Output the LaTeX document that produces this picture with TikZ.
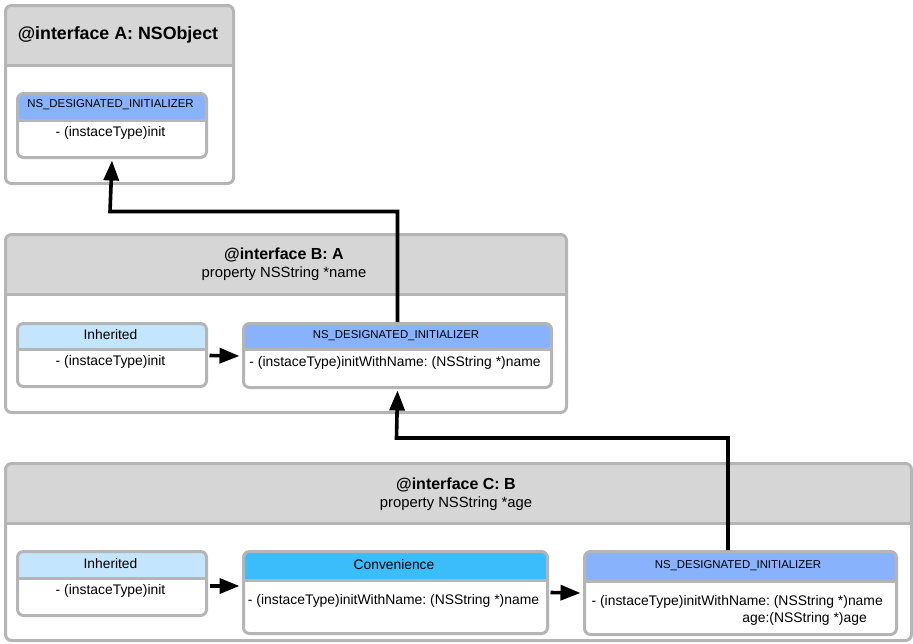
\documentclass[tikz,border=0pt]{standalone}
\usepackage{fontspec}
\setmainfont{Liberation Sans}
\usetikzlibrary{arrows.meta}
\definecolor{bord}{HTML}{B5B5B5}
\definecolor{hdrgray}{HTML}{D6D6D6}
\definecolor{desig}{HTML}{88B3FC}
\definecolor{inher}{HTML}{C3E5FD}
\definecolor{conv}{HTML}{3CBDFB}
\tikzset{
  % outer class panel and inner method cards
  boxbase/.style={draw=bord, line width=3pt, rounded corners=6pt, fill=white,
    inner sep=0pt, anchor=north west},
  % #1 = header fill, #2 = header depth
  withhead/.style 2 args={path picture={
      \fill[#1] (path picture bounding box.north west) rectangle
        ([yshift=-#2]path picture bounding box.north east);
      \draw[bord, line width=3pt] ([yshift=-#2]path picture bounding box.north west) --
        ([yshift=-#2]path picture bounding box.north east);}},
  titletxt/.style={font=\fontsize{16}{19}\selectfont\bfseries, inner sep=0pt},
  subtxt/.style={font=\fontsize{14.8}{17}\selectfont, inner sep=0pt},
  headtxt/.style={font=\fontsize{13.8}{16}\selectfont, inner sep=0pt},
  tagtxt/.style={font=\fontsize{11.4}{13}\selectfont, inner sep=0pt},
  bodytxt/.style={font=\fontsize{13.9}{17}\selectfont, inner sep=0pt},
  link/.style={line width=3.6pt, -{Triangle[length=20pt,width=15pt]}},
}
\begin{document}
\frenchspacing
\begin{tikzpicture}[x=1pt,y=-1pt]
\useasboundingbox (0,0) rectangle (913,643);

% ---- class A ----
\node[boxbase, withhead={hdrgray}{60pt}, minimum width=228pt, minimum height=178pt] (A) at (4,4) {};
\node[titletxt, font=\fontsize{17.8}{21}\selectfont\bfseries] (Atitle) at (118,35) {@interface A: NSObject};
\node[boxbase, withhead={desig}{27pt}, minimum width=189pt, minimum height=64pt] (Ainit) at (16,92) {};
\node[tagtxt] (Ainittag) at (110.5,104.5) {NS\_DESIGNATED\_INITIALIZER};
\node[bodytxt] (Ainitbody) at (110.5,133) {- (instaceType)init};

% ---- class B ----
\node[boxbase, withhead={hdrgray}{60pt}, minimum width=561pt, minimum height=178pt] (B) at (4,233) {};
\node[titletxt] (Btitle) at (284,255) {@interface B: A};
\node[subtxt] (Bsub) at (284,274) {property NSString *name};
\node[boxbase, withhead={inher}{26pt}, minimum width=189pt, minimum height=63pt] (Binh) at (16,322) {};
\node[headtxt] (Binhtag) at (110.5,335) {Inherited};
\node[bodytxt] (Binhbody) at (110.5,362) {- (instaceType)init};
\node[boxbase, withhead={desig}{26pt}, minimum width=308pt, minimum height=64pt] (Bdes) at (242,322) {};
\node[tagtxt] (Bdestag) at (396,335.5) {NS\_DESIGNATED\_INITIALIZER};
\node[bodytxt] (Bdesbody) at (395,363) {- (instaceType)initWithName: (NSString *)name};

% ---- class C ----
\node[boxbase, withhead={hdrgray}{60pt}, minimum width=906pt, minimum height=177pt] (C) at (4,462) {};
\node[titletxt] (Ctitle) at (456,485) {@interface C: B};
\node[subtxt] (Csub) at (456,504) {property NSString *age};
\node[boxbase, withhead={inher}{27pt}, minimum width=189pt, minimum height=64pt] (Cinh) at (16,550) {};
\node[headtxt] (Cinhtag) at (110.5,563.5) {Inherited};
\node[bodytxt] (Cinhbody) at (110.5,591) {- (instaceType)init};
\node[boxbase, withhead={conv}{29pt}, minimum width=304pt, minimum height=82pt] (Cconv) at (242,550) {};
\node[headtxt] (Cconvtag) at (394,565) {Convenience};
\node[bodytxt] (Cconvbody) at (393.5,601) {- (instaceType)initWithName: (NSString *)name};
\node[boxbase, withhead={desig}{30pt}, minimum width=312pt, minimum height=83pt] (Cdes) at (583,550) {};
\node[tagtxt] (Cdestag) at (738,565.5) {NS\_DESIGNATED\_INITIALIZER};
\node[bodytxt, anchor=east] (Cdesbody) at (883,602) {- (instaceType)initWithName: (NSString *)name};
\node[bodytxt, anchor=east] (Cdesbody2) at (867,619) {age:(NSString *)age};

% ---- call flow ----
\coordinate (Ajoin) at (110,211.5);
\coordinate (Bjoin) at (396.5,438);
\coordinate (Crow) at (0,586);
\draw[link] (Bdes.north) |- (Ajoin) -- ([yshift=-1.5pt]Ainit.south);
\draw[link] ([xshift=-12.5pt]Cdes.north) |- (Bjoin) -- ([yshift=-1.5pt]Bdes.south);
\draw[link] ([xshift=1.5pt,yshift=-0.5pt]Binh.east) -- ([xshift=-2.5pt,yshift=-0.5pt]Bdes.west);
\draw[link] ([xshift=1.5pt]Cinh.east |- Crow) -- ([xshift=-2.5pt]Cconv.west |- Crow);
\draw[link] ([xshift=1.5pt]Cconv.east) -- ([xshift=-2.5pt]Cdes.west);
\end{tikzpicture}
\end{document}
